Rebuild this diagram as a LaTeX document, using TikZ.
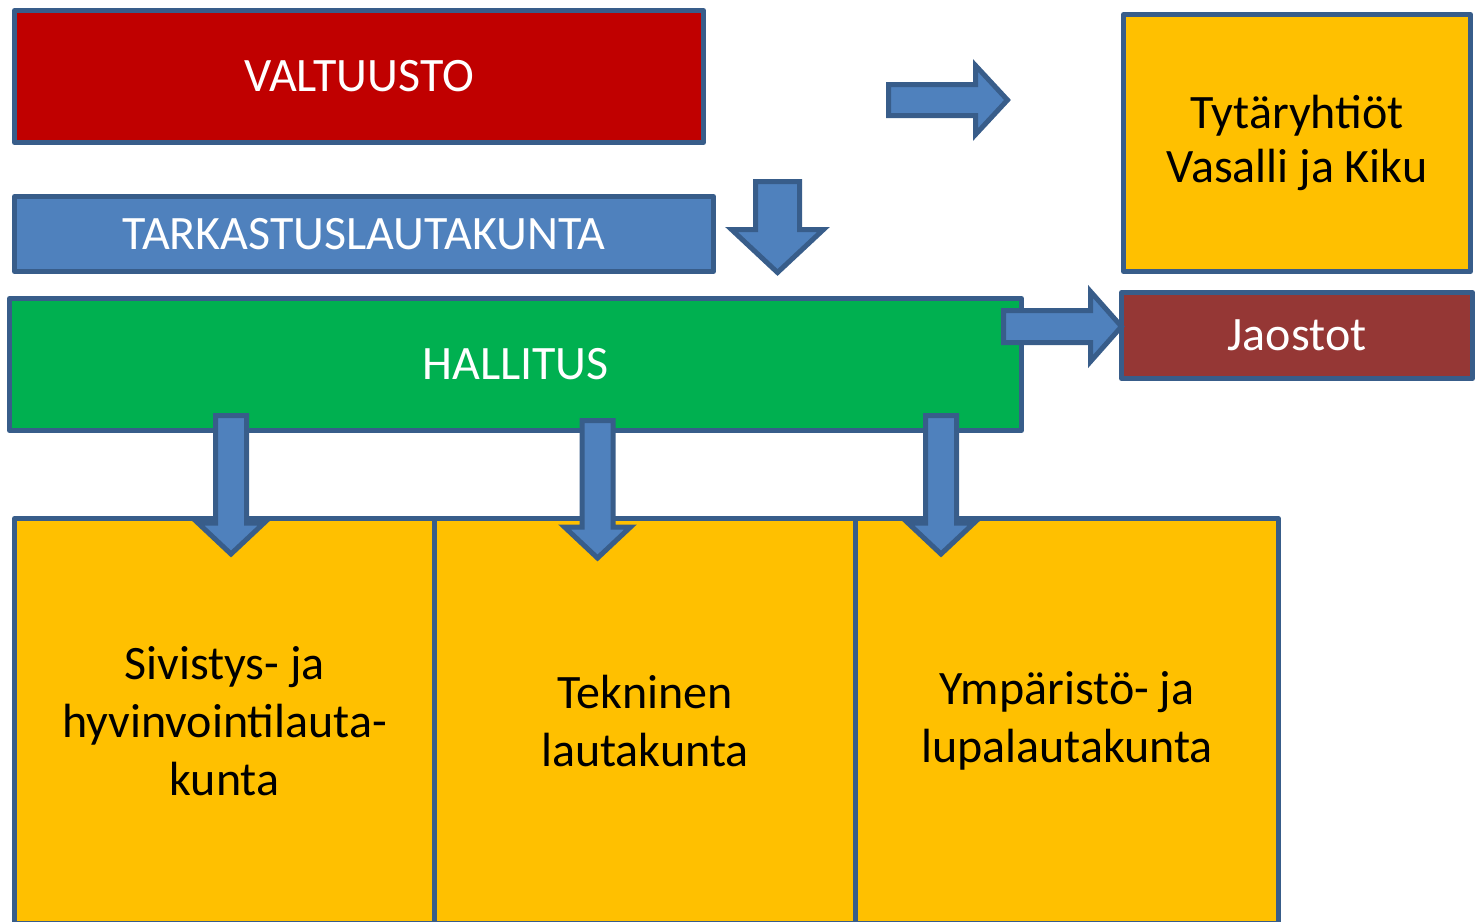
\documentclass[tikz,border=0pt]{standalone}
\usepackage{fontspec}
\setmainfont{Carlito}
\definecolor{rim}{HTML}{385D8A}
\definecolor{arrowblue}{HTML}{4F81BD}
\definecolor{boardred}{HTML}{C00000}
\definecolor{boardgreen}{HTML}{00B050}
\definecolor{boardyellow}{HTML}{FFC000}
\definecolor{boardbrown}{HTML}{953735}
\tikzset{
  board/.style={draw=rim, line width=5pt, line join=round, rectangle,
    inner sep=0pt, align=center, font=\fontsize{48}{58}\selectfont},
  blockarrow/.style={draw=rim, fill=arrowblue, line width=5pt, line join=miter}
}
\begin{document}
\begin{tikzpicture}[x=1pt, y=-1pt]
			\useasboundingbox (0,0) rectangle (1475,921);
			\clip (0,0) rectangle (1475,921);
			%top row
			\node[board, fill=boardred, text=white, minimum width=689, minimum height=132]
				(valtuusto) at (359,76.5) {VALTUUSTO};
			\node[board, fill=boardyellow, minimum width=347, minimum height=257]
				(tytar) at (1297,143) {\raisebox{-4pt}{Tytäryhtiöt}\\Vasalli ja Kiku};
			\node[board, fill=arrowblue, text=white, minimum width=699, minimum height=75]
				(tarkastus) at (364,234) {TARKASTUSLAUTAKUNTA};
			\node[board, fill=boardgreen, text=white, minimum width=1012, minimum height=132]
				(hallitus) at (515.5,364.5) {HALLITUS};
			\node[board, fill=boardbrown, text=white, minimum width=351, minimum height=86]
				(jaostot) at (1297,335.5) {Jaostot};
			
			%lautakunnat
			\node[board, fill=boardyellow, minimum width=420, minimum height=405]
				(sivistys) at (224.5,721) {Sivistys- ja\\hyvinvointilauta-\\kunta};
			\node[board, fill=boardyellow, minimum width=421.5, minimum height=405]
				(tekninen) at (645,721) {Tekninen\\lautakunta};
			\node[board, fill=boardyellow, minimum width=422.5, minimum height=405]
				(ymparisto) at (1067,721) {Ympäristö- ja\\lupalautakunta};
			
			%arrows
			\draw[blockarrow] (888.5,84.5) -- (975.5,84.5) -- (975.5,65.5) -- (1007.5,100)
				-- (975.5,134.5) -- (975.5,115.5) -- (888.5,115.5) -- cycle;
			\draw[blockarrow] (755.5,181.5) -- (799.5,181.5) -- (799.5,229.5) -- (823.5,229.5)
				-- (777.5,272.5) -- (731.5,229.5) -- (755.5,229.5) -- cycle;
			\draw[blockarrow] (1003.5,310.5) -- (1090.5,310.5) -- (1090.5,291.5) -- (1121.5,326.5)
				-- (1090.5,361.5) -- (1090.5,342.5) -- (1003.5,342.5) -- cycle;
			\foreach \cx/\top/\tip in {231/415.5/554, 597.5/420.5/558, 941/415.5/554}{
				\draw[blockarrow] (\cx-15.5,\top) -- (\cx+15.5,\top) -- (\cx+15.5,\tip-31)
					-- (\cx+33,\tip-31) -- (\cx,\tip) -- (\cx-33,\tip-31) -- (\cx-15.5,\tip-31) -- cycle;
			}
		\end{tikzpicture}
\end{document}
